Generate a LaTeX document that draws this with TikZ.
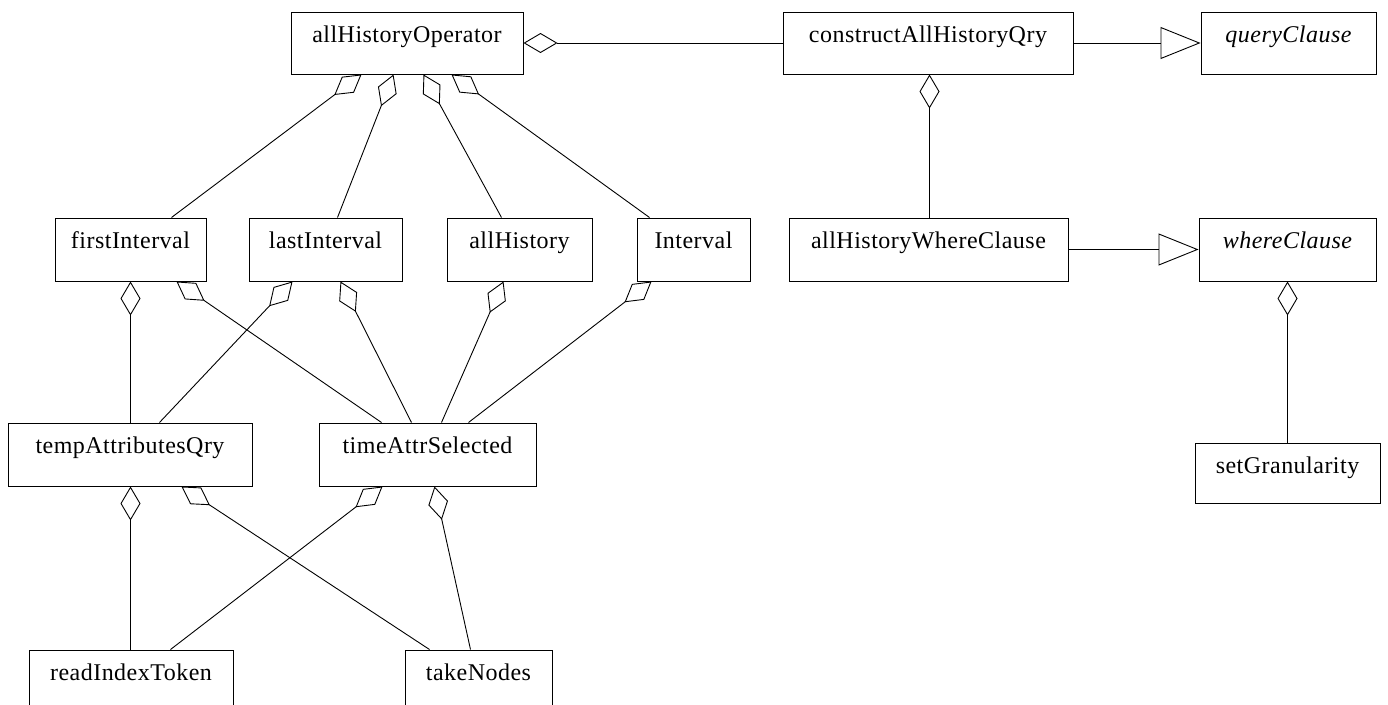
\documentclass[tikz,border=0pt]{standalone}
\usepackage{fontspec}
\newfontfamily\umlfont{Liberation Serif}[LetterSpace=2]
\usetikzlibrary{arrows.meta,calc}
\tikzset{
  box/.style={draw=black, line width=1pt, inner sep=0pt, fill=white},
  lbl/.style={anchor=base, inner sep=0pt, font=\umlfont\fontsize{24}{28}\selectfont},
  conn/.style={draw=black, line width=0.9pt},
  agg/.style={conn, -{Diamond[open, length=34pt, width=20pt, line width=0.9pt]}},
  gen/.style={conn, -{Triangle[open, length=40pt, width=32pt, line width=0.9pt]}},
}
\newcommand\umlbox[6]{%
  \node[box, minimum width={(#4-#2)*1pt}, minimum height={(#5-#3)*1pt}] (#1) at ({(#2+#4)/2},{(#3+#5)/2}) {};
  \node[lbl] (#1-t) at ([yshift=-31pt]#1.north) {#6};
}
\begin{document}
\begin{tikzpicture}[x=1pt,y=-1pt]
\path[use as bounding box, fill=white] (0,0) rectangle (1388,704);
\clip (0,0) rectangle (1388,704);
% boxes
\umlbox{aho}{291}{12}{523}{74}{allHistoryOperator}
\umlbox{cah}{783}{12}{1073}{74}{constructAllHistoryQry}
\umlbox{qc}{1201}{12}{1376}{74}{\itshape queryClause}
\umlbox{fi}{55}{218}{206}{281}{firstInterval}
\umlbox{li}{249}{218}{402}{281}{lastInterval}
\umlbox{ah}{447}{218}{592}{281}{allHistory}
\umlbox{iv}{637}{218}{750}{281}{Interval}
\umlbox{awc}{789}{218}{1068}{281}{allHistoryWhereClause}
\umlbox{wc}{1199}{218}{1376}{281}{\itshape whereClause}
\umlbox{ta}{8}{423}{252}{486}{tempAttributesQry}
\umlbox{tas}{319}{423}{536}{486}{timeAttrSelected}
\umlbox{sg}{1195}{443}{1380}{503}{setGranularity}
\umlbox{rit}{29}{650}{233}{714}{readIndexToken}
\umlbox{tn}{405}{650}{552}{714}{takeNodes}
% aggregations
\draw[agg] (cah.west) -- (aho.east);
\draw[agg] ($(fi.north west)+(117,0)$) -- ($(aho.south west)+(71,0)$);
\draw[agg] ($(li.north west)+(89,0)$) -- ($(aho.south west)+(103,0)$);
\draw[agg] ($(ah.north west)+(55,0)$) -- ($(aho.south west)+(133,0)$);
\draw[agg] ($(iv.north west)+(13,0)$) -- ($(aho.south west)+(161,0)$);
\draw[agg] ($(awc.north west)+(141,0)$) -- ($(cah.south west)+(147,0)$);
\draw[agg] ($(sg.north west)+(93,0)$) -- ($(wc.south west)+(89,0)$);
\draw[agg] ($(ta.north west)+(123,0)$) -- ($(fi.south west)+(76,0)$);
\draw[agg] ($(tas.north west)+(63,0)$) -- ($(fi.south west)+(122,0)$);
\draw[agg] ($(ta.north west)+(152,0)$) -- ($(li.south west)+(44,0)$);
\draw[agg] ($(tas.north west)+(93,0)$) -- ($(li.south west)+(92,0)$);
\draw[agg] ($(tas.north west)+(123,0)$) -- ($(ah.south west)+(57,0)$);
\draw[agg] ($(tas.north west)+(150,0)$) -- ($(iv.south west)+(15,0)$);
\draw[agg] ($(rit.north west)+(102,0)$) -- ($(ta.south west)+(123,0)$);
\draw[agg] ($(tn.north west)+(25,0)$) -- ($(ta.south west)+(174,0)$);
\draw[agg] ($(rit.north west)+(142,0)$) -- ($(tas.south west)+(64,0)$);
\draw[agg] ($(tn.north west)+(66,0)$) -- ($(tas.south west)+(116,0)$);
% generalizations
\draw[gen] (cah.east) -- (qc.west);
\draw[gen] (awc.east) -- (wc.west);
\end{tikzpicture}
\end{document}
